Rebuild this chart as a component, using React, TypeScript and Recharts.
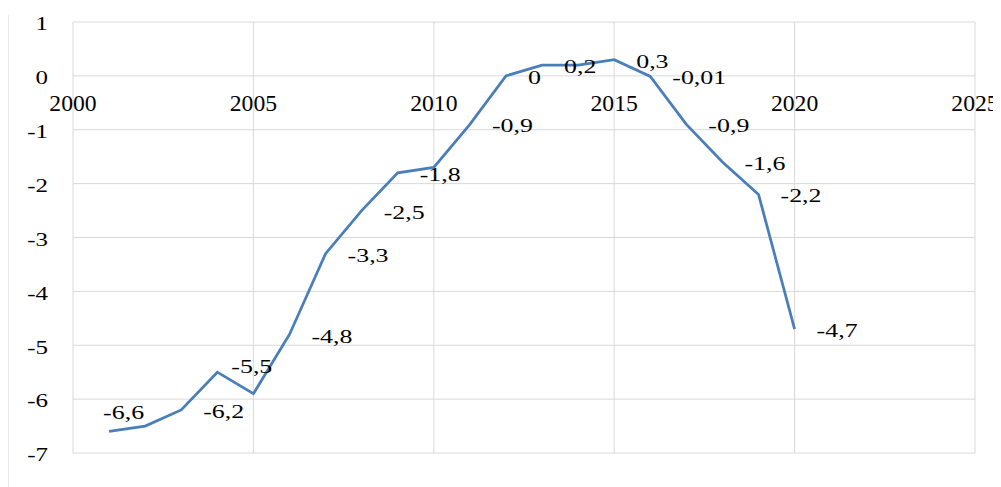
import React from 'react';
import { LineChart, Line, XAxis, YAxis, CartesianGrid, LabelList, ReferenceDot } from 'recharts';

const years = [2001, 2002, 2003, 2004, 2005, 2006, 2007, 2008, 2009, 2010, 2011, 2012, 2013, 2014, 2015, 2016, 2017, 2018, 2019, 2020];
const values = [-6.6, -6.5, -6.2, -5.5, -5.9, -4.8, -3.3, -2.5, -1.8, -1.7, -0.9, 0, 0.2, 0.2, 0.3, -0.01, -0.9, -1.6, -2.2, -4.7];
// data labels as printed; null = no label on that point
const pointLabels = ['-6,6', null, '-6,2', '-5,5', null, '-4,8', '-3,3', '-2,5', '-1,8', null, '-0,9', '0', '0,2', null, '0,3', '-0,01', '-0,9', '-1,6', '-2,2', '-4,7'];
const xTicks = [2000, 2005, 2010, 2015, 2020, 2025];
const yTicks = [-7, -6, -5, -4, -3, -2, -1, 0, 1];

const data = years.map((year, i) => ({ year, value: values[i], label: pointLabels[i] }));

const FONT = '"Liberation Serif", "Times New Roman", serif';
const LINE_COLOR = '#4a7ebb';
const GRID_COLOR = '#d9d9d9';

// Excel places labels to the right of the point; a couple were nudged by hand
const labelShift: Record<number, [number, number]> = {
  0: [-6, -18],
  3: [14, -5],
};

const PointLabel = (props: any) => {
  const { x, y, index } = props;
  const text = pointLabels[index];
  if (text == null) return null;
  const [dx, dy] = labelShift[index] ?? [22, 2];
  return (
    <text
      transform={`translate(${x + dx},${y + dy}) scale(1.44,1)`}
      textAnchor="start"
      dominantBaseline="central"
      fontFamily={FONT}
      fontSize={18}
      fill="#000"
    >
      {text}
    </text>
  );
};

const YTick = (props: any) => {
  const { x, y, payload } = props;
  return (
    <text
      transform={`translate(${x},${y + 2}) scale(1.35,1)`}
      textAnchor="end"
      dominantBaseline="central"
      fontFamily={FONT}
      fontSize={18.5}
      fill="#000"
    >
      {payload.value}
    </text>
  );
};

const YearTick = (props: any) => {
  const { cx, cy, label } = props;
  return (
    <text
      transform={`translate(${cx},${cy + 27}) scale(1.03,1)`}
      textAnchor="middle"
      dominantBaseline="central"
      fontFamily={FONT}
      fontSize={23}
      fill="#000"
    >
      {label}
    </text>
  );
};

export default function App() {
  return (
    <div style={{ position: 'relative', width: 993, height: 479 }}>
      <div style={{ position: 'absolute', left: 0, top: 7, bottom: 0, width: 1, background: '#e8e8e8' }} />
      <LineChart width={993} height={479} data={data} margin={{ top: 14, right: 26, bottom: 34, left: 0 }}>
        <CartesianGrid stroke={GRID_COLOR} strokeWidth={1} />
        <XAxis dataKey="year" type="number" domain={[2000, 2025]} ticks={xTicks} hide />
        <YAxis
          type="number"
          domain={[-7, 1]}
          ticks={yTicks}
          width={65}
          axisLine={false}
          tickLine={false}
          tickSize={0}
          tickMargin={25}
          tick={<YTick />}
          interval={0}
        />
        <Line
          type="linear"
          dataKey="value"
          stroke={LINE_COLOR}
          strokeWidth={2.75}
          dot={false}
          activeDot={false}
          isAnimationActive={false}
        >
          <LabelList dataKey="value" content={<PointLabel />} />
        </Line>
        {xTicks.map((t) => (
          <ReferenceDot
            key={t}
            x={t}
            y={0}
            r={0}
            ifOverflow="visible"
            shape={(p: any) => <YearTick {...p} label={t} />}
          />
        ))}
      </LineChart>
    </div>
  );
}
